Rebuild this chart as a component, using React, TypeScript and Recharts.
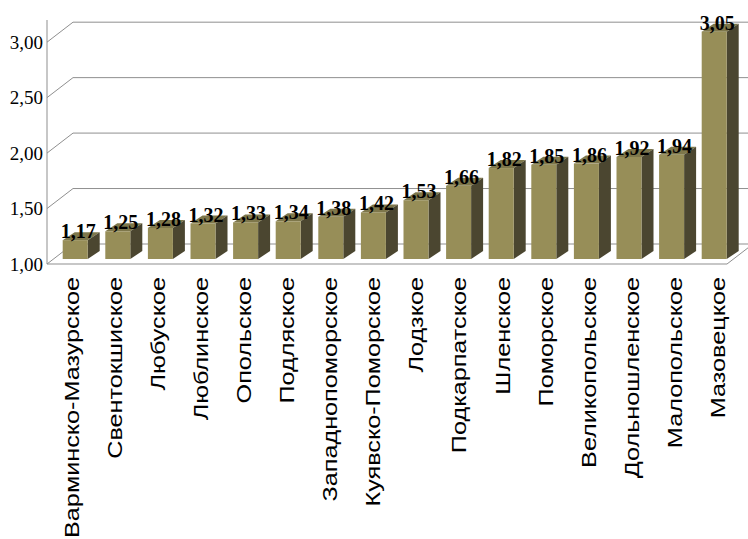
import { Bar, BarChart, CartesianGrid, LabelList, XAxis, YAxis } from "recharts"

const regions = [
  "Варминско-Мазурское",
  "Свентокшиское",
  "Любуское",
  "Люблинское",
  "Опольское",
  "Подляское",
  "Западнопоморское",
  "Куявско-Поморское",
  "Лодзкое",
  "Подкарпатское",
  "Шленское",
  "Поморское",
  "Великопольское",
  "Дольношленское",
  "Малопольское",
  "Мазовецкое",
]
const values = [1.17, 1.25, 1.28, 1.32, 1.33, 1.34, 1.38, 1.42, 1.53, 1.66, 1.82, 1.85, 1.86, 1.92, 1.94, 3.05]
const yTicks = [1, 1.5, 2, 2.5, 3]

const data = regions.map((name, i) => ({ name, value: values[i] }))

// 3d look
const DEPTH_X = 12
const DEPTH_Y = -8
const WALL_X = 26
const WALL_Y = -20
const BAR_LIFT = -5
const FRONT = "#978e58"
const SIDE = "#4b4630"
const TOP = "#7e774b"
const LINE = "#8f8f8f"
const AXIS_X = 47
const PLOT_TOP = 20
const PLOT_BOTTOM = 264
const FLOOR_RIGHT = 727
const SERIF = "'Liberation Serif', 'Times New Roman', serif"
const SANS = "'Liberation Sans', Arial, sans-serif"

const fmt = (v: number) => v.toFixed(2).replace(".", ",")

function Bar3D(props: any) {
  const { x, y, width, height } = props
  const fx = x + 1
  const fy = y + BAR_LIFT
  const w = width
  const h = height
  return (
    <g>
      <polygon
        points={`${fx},${fy} ${fx + DEPTH_X},${fy + DEPTH_Y} ${fx + w + DEPTH_X},${fy + DEPTH_Y} ${fx + w},${fy}`}
        fill={TOP}
      />
      <polygon
        points={`${fx + w},${fy} ${fx + w + DEPTH_X},${fy + DEPTH_Y} ${fx + w + DEPTH_X},${fy + h + DEPTH_Y} ${fx + w},${fy + h}`}
        fill={SIDE}
      />
      <rect x={fx} y={fy} width={w} height={h} fill={FRONT} />
    </g>
  )
}

function WallLine(props: any) {
  const { y1, index } = props
  // the top edge of the plot is not a tick, no wall line there
  if (Math.abs(y1 - PLOT_TOP) < 2) return <g key={`wall-${index}`} />
  const isFloor = Math.abs(y1 - PLOT_BOTTOM) < 2
  return (
    <g key={`wall-${index}`}>
      <line x1={AXIS_X} y1={y1} x2={AXIS_X + WALL_X} y2={y1 + WALL_Y} stroke={LINE} />
      <line x1={AXIS_X + WALL_X} y1={y1 + WALL_Y} x2={760} y2={y1 + WALL_Y} stroke={LINE} />
      {isFloor && (
        <>
          <line x1={AXIS_X} y1={y1} x2={FLOOR_RIGHT} y2={y1} stroke={LINE} />
          <line x1={FLOOR_RIGHT} y1={y1} x2={FLOOR_RIGHT + WALL_X} y2={y1 + WALL_Y} stroke={LINE} />
        </>
      )}
    </g>
  )
}

function YTick({ y, payload }: any) {
  return (
    <text x={AXIS_X - 4} y={y} dy="0.35em" textAnchor="end" fontSize={19} fill="#000" fontFamily={SERIF}>
      {fmt(payload.value)}
    </text>
  )
}

function XTick({ x, payload }: any) {
  return (
    <text
      transform={`translate(${x},277) rotate(-90) scale(1.2,1)`}
      textAnchor="end"
      dy="0.36em"
      fontSize={21}
      fill="#000"
      fontFamily={SANS}
    >
      {payload.value}
    </text>
  )
}

function ValueLabel(props: any) {
  const { x, y, width, value } = props
  return (
    <text
      x={x + width / 2 + 4}
      y={y + BAR_LIFT - 2}
      textAnchor="middle"
      fontSize={20}
      fontWeight="bold"
      fill="#000"
      fontFamily={SERIF}
    >
      {fmt(value)}
    </text>
  )
}

export default function App() {
  return (
    <div style={{ position: "absolute", left: 0, top: 0, background: "#fff" }}>
      <BarChart width={748} height={539} data={data} margin={{ top: PLOT_TOP, right: 3, bottom: 0, left: 0 }}>
        <CartesianGrid vertical={false} horizontal={WallLine} />
        <XAxis xAxisId="bars" dataKey="name" hide padding={{ left: 5.7, right: 10.7 }} />
        <XAxis
          xAxisId="labels"
          dataKey="name"
          height={539 - PLOT_BOTTOM}
          interval={0}
          axisLine={false}
          tickLine={false}
          tick={XTick}
          padding={{ left: 2.45, right: 5.95 }}
        />
        <YAxis
          width={AXIS_X}
          domain={[1, 3.2]}
          ticks={yTicks}
          allowDataOverflow
          axisLine={{ stroke: LINE }}
          tickLine={false}
          tick={YTick}
        />
        <Bar xAxisId="bars" dataKey="value" barSize={25} shape={Bar3D} isAnimationActive={false}>
          <LabelList dataKey="value" content={ValueLabel} />
        </Bar>
      </BarChart>
    </div>
  )
}
